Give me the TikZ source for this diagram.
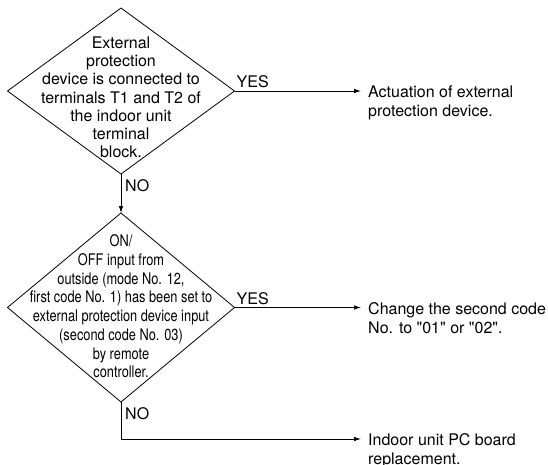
\documentclass[tikz,border=0pt]{standalone}
\usepackage{fontspec}
\setmainfont{TeX Gyre Heros}
\newfontfamily\narrowfont[FakeStretch=0.8]{TeX Gyre Heros}
\usetikzlibrary{arrows.meta,shapes.geometric}
\begin{document}
\begin{tikzpicture}[x=1pt,y=-1pt,
  line/.style={line width=0.8pt},
  arr/.style={line, -{Latex[length=7pt,width=4.5pt]}},
  dec/.style={draw, line width=0.8pt, diamond, inner sep=0pt, outer sep=0pt, minimum width=227pt},
  body/.style={font=\fontsize{16}{18.2}\selectfont, align=center, inner sep=0pt},
  side/.style={font=\fontsize{16}{19}\selectfont, align=left, inner xsep=7pt, inner ysep=0pt, anchor=base west},
  lab/.style={font=\fontsize{16}{18}\selectfont}]
\useasboundingbox (0,0) rectangle (548,465);
\node[dec, minimum height=166pt] (d1) at (121,91) {};
\node[dec, minimum height=189pt] (d2) at (121,307.5) {};
\node[body, anchor=base] (t1) at (121,157.7) {External\\protection\\device is connected to\\terminals T1 and T2 of\\the indoor unit\\terminal\\block.};
\node[body, anchor=base, font=\narrowfont\fontsize{16}{18.7}\selectfont] (t2) at (121,377.7) {ON/\\OFF input from\\outside (mode No. 12,\\first code No. 1) has been set to\\external protection device input\\(second code No. 03)\\by remote\\controller.};
\node[side] (r1) at (361,116.4) {Actuation of external\\protection device.};
\node[side] (r2) at (361,333.7) {Change the second code\\No. to \textquotedbl 01\textquotedbl{} or \textquotedbl 02\textquotedbl .};
\node[side] (r3) at (361,464.7) {Indoor unit PC board\\replacement.};
\draw[arr] (d1.east) -- (d1.east -| r1.west);
\draw[arr] (d1.south) -- (d2.north);
\draw[arr] (d2.east) -- (d2.east -| r2.west);
\coordinate (k) at (121,439);
\draw[line] (d2.south) -- (k);
\draw[arr] (k) -- (k -| r3.west);
\node[lab, anchor=south west, inner xsep=2pt, inner ysep=3pt] (y1) at (d1.east) {YES};
\node[lab, anchor=south west, inner xsep=2pt, inner ysep=3pt] (y2) at (d2.east) {YES};
\node[lab, anchor=north west, inner xsep=4pt, inner ysep=5pt] (n1) at (d1.south) {NO};
\node[lab, anchor=north west, inner xsep=4pt, inner ysep=5pt] (n2) at (d2.south) {NO};
\end{tikzpicture}
\end{document}
